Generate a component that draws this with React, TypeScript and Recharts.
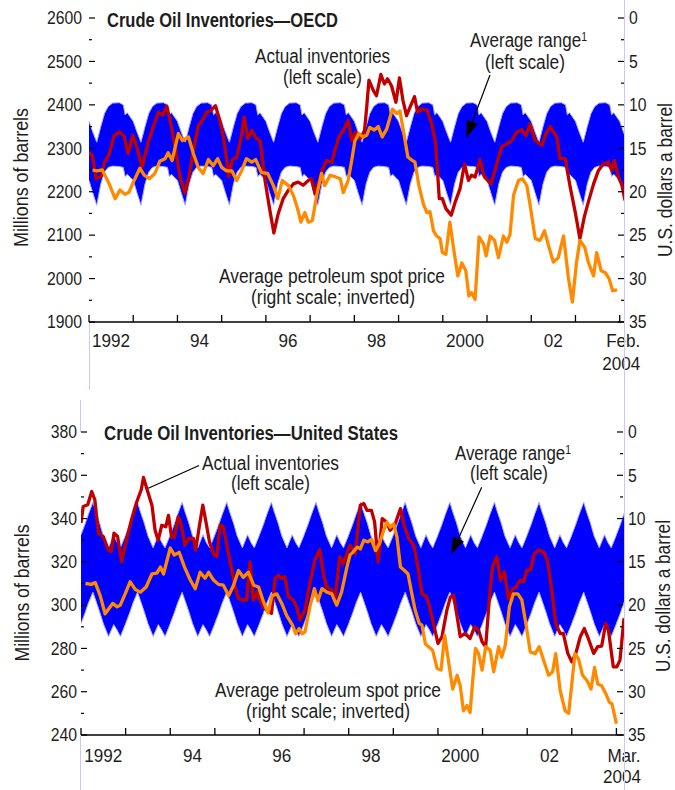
import React from "react";
import { ComposedChart, Area, Line, XAxis, YAxis } from "recharts";

const FONT = "'Liberation Sans', Arial, sans-serif";
const INK = "#1d1d1b";
const RED = "#c00000";
const ORANGE = "#ff8a00";
const BLUE = "#0000ff";

// x axis: yearly tick marks, labels centred on even years
const yearTicks = [1992, 1993, 1994, 1995, 1996, 1997, 1998, 1999, 2000, 2001, 2002, 2003, 2004];
const yearLabelAt = [1992.5, 1994.5, 1996.5, 1998.5, 2000.5, 2002.5];
const yearLabelText = ["1992", "94", "96", "98", "2000", "02"];

const oecdLeftTicks = [1900, 1950, 2000, 2050, 2100, 2150, 2200, 2250, 2300, 2350, 2400, 2450, 2500, 2550, 2600];
const usLeftTicks = [240, 250, 260, 270, 280, 290, 300, 310, 320, 330, 340, 350, 360, 370, 380];
const priceTicks = [0, 2.5, 5, 7.5, 10, 12.5, 15, 17.5, 20, 22.5, 25, 27.5, 30, 32.5, 35];

// average range: the same seasonal envelope every year (month of year -> low / high)
const bandYears = [1992, 1993, 1994, 1995, 1996, 1997, 1998, 1999, 2000, 2001, 2002, 2003, 2004];
const oecdBandMonth = [0, 1, 2.1, 3.2, 4.2, 5.2, 6.4, 8.2, 9.3, 9.8, 10.4, 11.2];
const oecdBandHigh = [2362, 2338, 2314, 2350, 2380, 2396, 2404, 2405, 2400, 2377, 2382, 2372];
const oecdBandLow = [2226, 2198, 2169, 2218, 2245, 2256, 2259, 2258, 2256, 2235, 2240, 2233];
const usBandMonth = [0, 1, 2, 3.2, 4, 5, 6, 7.4, 8.8, 9.7, 10.6, 11.9];
const usBandHigh = [332.5, 337, 342, 347.5, 343, 338, 332, 326.5, 332.5, 329, 326.5, 332];
const usBandLow = [291.5, 296, 301, 306, 302, 297, 291.5, 285.5, 291, 288.5, 285.5, 291];

type Pt = [number, number];

// OECD actual inventories, millions of barrels
const oecdActual: Pt[] = [
  [1992.0, 2291], [1992.08, 2282], [1992.16, 2230], [1992.27, 2236], [1992.35, 2268], [1992.46, 2287],
  [1992.57, 2330], [1992.69, 2338], [1992.8, 2326], [1992.88, 2288], [1992.99, 2330], [1993.09, 2300],
  [1993.2, 2257], [1993.34, 2314], [1993.45, 2349], [1993.57, 2383], [1993.66, 2376], [1993.76, 2397],
  [1993.85, 2356], [1993.93, 2314], [1994.06, 2234], [1994.17, 2197], [1994.26, 2234], [1994.36, 2295],
  [1994.47, 2352], [1994.56, 2364], [1994.66, 2383], [1994.76, 2387], [1994.86, 2398], [1994.96, 2364],
  [1995.04, 2326], [1995.11, 2276], [1995.16, 2235], [1995.24, 2273], [1995.34, 2279], [1995.44, 2326],
  [1995.51, 2372], [1995.59, 2322], [1995.68, 2341], [1995.79, 2322], [1995.87, 2318], [1995.98, 2226],
  [1996.09, 2157], [1996.18, 2105], [1996.28, 2150], [1996.39, 2184], [1996.5, 2202], [1996.62, 2218],
  [1996.73, 2222], [1996.84, 2215], [1996.96, 2226], [1997.03, 2230], [1997.11, 2195], [1997.18, 2218],
  [1997.27, 2249], [1997.37, 2272], [1997.49, 2268], [1997.56, 2295], [1997.65, 2326], [1997.75, 2341],
  [1997.86, 2364], [1997.94, 2318], [1998.03, 2337], [1998.13, 2322], [1998.23, 2341], [1998.28, 2395],
  [1998.33, 2457], [1998.43, 2433], [1998.5, 2421], [1998.6, 2470], [1998.68, 2448], [1998.75, 2460],
  [1998.84, 2444], [1998.94, 2406], [1999.02, 2462], [1999.1, 2410], [1999.18, 2375], [1999.26, 2395],
  [1999.36, 2419], [1999.43, 2383], [1999.52, 2391], [1999.64, 2388], [1999.75, 2356], [1999.84, 2310],
  [1999.92, 2184], [1999.99, 2184], [2000.07, 2161], [2000.19, 2146], [2000.28, 2176], [2000.39, 2207],
  [2000.49, 2264], [2000.58, 2226], [2000.65, 2238], [2000.73, 2234], [2000.84, 2274], [2000.94, 2234],
  [2001.09, 2218], [2001.22, 2264], [2001.33, 2303], [2001.45, 2310], [2001.56, 2318], [2001.67, 2337],
  [2001.79, 2343], [2001.88, 2329], [2001.97, 2356], [2002.09, 2318], [2002.24, 2307], [2002.33, 2333],
  [2002.43, 2350], [2002.53, 2333], [2002.58, 2326], [2002.65, 2276], [2002.77, 2276], [2002.88, 2211],
  [2003.0, 2150], [2003.1, 2092], [2003.2, 2142], [2003.29, 2176], [2003.41, 2218], [2003.52, 2249],
  [2003.63, 2264], [2003.75, 2268], [2003.82, 2249], [2003.88, 2272], [2003.97, 2234], [2004.05, 2215],
  [2004.12, 2180],
];

// average petroleum spot price, $ a barrel (plotted inverted)
const oecdPrice: Pt[] = [
  [1992.08, 17.5], [1992.18, 17.6], [1992.3, 17.5], [1992.44, 18.9], [1992.59, 20.8], [1992.7, 19.8],
  [1992.81, 20.3], [1992.9, 20.1], [1993.02, 18.7], [1993.15, 17.3], [1993.25, 18.1], [1993.36, 18.5],
  [1993.49, 17.9], [1993.6, 16.5], [1993.72, 16.2], [1993.79, 15.5], [1993.88, 16.4], [1994.02, 13.3],
  [1994.11, 14.1], [1994.25, 13.7], [1994.36, 15.6], [1994.47, 17.2], [1994.58, 17.9], [1994.7, 16.3],
  [1994.81, 17.0], [1994.91, 16.2], [1995.0, 17.2], [1995.11, 17.6], [1995.23, 17.6], [1995.34, 18.7],
  [1995.45, 17.6], [1995.56, 16.2], [1995.68, 16.6], [1995.77, 16.3], [1995.9, 17.8], [1996.04, 17.9],
  [1996.17, 19.3], [1996.27, 20.8], [1996.37, 18.7], [1996.51, 19.3], [1996.62, 20.4], [1996.73, 22.2],
  [1996.79, 23.5], [1996.88, 22.4], [1996.96, 23.5], [1997.05, 23.3], [1997.15, 20.4], [1997.26, 17.9],
  [1997.33, 19.3], [1997.45, 18.1], [1997.58, 18.3], [1997.68, 18.5], [1997.75, 20.1], [1997.86, 18.7],
  [1997.94, 16.4], [1998.01, 14.2], [1998.1, 13.3], [1998.2, 13.7], [1998.28, 13.5], [1998.35, 12.6],
  [1998.45, 12.9], [1998.54, 12.5], [1998.63, 13.7], [1998.73, 12.8], [1998.86, 10.5], [1998.96, 11.0],
  [1999.03, 10.7], [1999.11, 13.0], [1999.21, 16.0], [1999.31, 16.4], [1999.37, 16.6], [1999.46, 19.3],
  [1999.56, 21.4], [1999.64, 22.4], [1999.71, 22.3], [1999.79, 24.5], [1999.86, 25.1], [1999.94, 25.4],
  [1999.99, 27.0], [2000.07, 27.2], [2000.16, 23.5], [2000.24, 26.4], [2000.34, 29.7], [2000.43, 28.2],
  [2000.52, 29.1], [2000.59, 32.0], [2000.65, 31.6], [2000.73, 32.4], [2000.82, 25.2], [2000.92, 26.0],
  [2000.98, 27.4], [2001.07, 25.1], [2001.17, 25.6], [2001.26, 27.6], [2001.37, 25.1], [2001.45, 25.8],
  [2001.52, 24.9], [2001.6, 20.4], [2001.71, 18.7], [2001.8, 18.5], [2001.9, 19.3], [2001.97, 21.4],
  [2002.09, 25.4], [2002.2, 25.6], [2002.3, 24.5], [2002.39, 26.2], [2002.5, 28.1], [2002.61, 27.6],
  [2002.73, 25.1], [2002.84, 29.9], [2002.93, 32.7], [2003.02, 28.3], [2003.1, 25.6], [2003.21, 26.4],
  [2003.29, 28.1], [2003.41, 29.7], [2003.48, 27.0], [2003.58, 29.1], [2003.67, 29.3], [2003.76, 30.0],
  [2003.84, 31.4], [2003.94, 31.3],
];

// United States actual inventories, millions of barrels
const usActual: Pt[] = [
  [1992.0, 338], [1992.05, 345.6], [1992.15, 346.4], [1992.24, 352.5], [1992.31, 348.7], [1992.39, 333.3],
  [1992.5, 331.7], [1992.61, 325.6], [1992.68, 324.8], [1992.74, 333.3], [1992.82, 331.7], [1992.91, 320.1],
  [1993.02, 330.2], [1993.13, 339.4], [1993.24, 347.2], [1993.35, 353.3], [1993.4, 359], [1993.51, 351.5],
  [1993.59, 346.2], [1993.66, 334.6], [1993.73, 330], [1993.81, 336.9], [1993.9, 336.2], [1993.96, 341.5],
  [1994.03, 331.5], [1994.09, 331.2], [1994.18, 340.8], [1994.24, 337.7], [1994.33, 327.7], [1994.41, 330.8],
  [1994.52, 330.8], [1994.57, 325.4], [1994.65, 336.2], [1994.73, 346.2], [1994.8, 338.5], [1994.88, 329.2],
  [1994.97, 323.8], [1995.04, 322.3], [1995.12, 336.9], [1995.19, 336.2], [1995.29, 325.4], [1995.38, 316.2],
  [1995.45, 308.5], [1995.53, 303.1], [1995.64, 302.3], [1995.71, 302.3], [1995.79, 320], [1995.86, 302.3],
  [1995.94, 306.2], [1996.01, 302.3], [1996.09, 299.2], [1996.16, 297.7], [1996.27, 296.2], [1996.35, 312.3],
  [1996.42, 313.8], [1996.5, 312.3], [1996.57, 313.1], [1996.65, 303.8], [1996.76, 302.3], [1996.83, 299.2],
  [1996.91, 293.1], [1997.02, 297.7], [1997.13, 310], [1997.24, 320.8], [1997.35, 325.7], [1997.43, 314.6],
  [1997.5, 308.5], [1997.62, 306.9], [1997.69, 302.3], [1997.8, 322.3], [1997.88, 319.2], [1998.03, 327.7],
  [1998.15, 323.8], [1998.26, 346.2], [1998.34, 346.9], [1998.41, 343.8], [1998.51, 343.8], [1998.58, 338.5],
  [1998.66, 320], [1998.75, 340], [1998.84, 338.5], [1998.93, 334.6], [1999.03, 336.9], [1999.16, 344.6],
  [1999.23, 337.7], [1999.34, 330.8], [1999.46, 327.7], [1999.55, 317.7], [1999.64, 305.4], [1999.75, 303.8],
  [1999.83, 297.7], [1999.9, 291.5], [2000.0, 282.3], [2000.09, 285.4], [2000.2, 297.7], [2000.28, 303.8],
  [2000.35, 304.6], [2000.43, 294.6], [2000.5, 285.4], [2000.61, 286.9], [2000.72, 284.6], [2000.82, 290],
  [2000.91, 288.5], [2000.99, 283.1], [2001.07, 280.8], [2001.15, 302.3], [2001.22, 317.7], [2001.32, 322.3],
  [2001.4, 311.5], [2001.49, 315.4], [2001.58, 303.1], [2001.66, 306.9], [2001.75, 308.5], [2001.84, 311.5],
  [2001.92, 310.8], [2001.99, 316.2], [2002.07, 316.2], [2002.16, 323.8], [2002.25, 325.4], [2002.37, 324.6],
  [2002.46, 320], [2002.55, 306.9], [2002.64, 291.5], [2002.74, 286.9], [2002.81, 286.9], [2002.91, 277.7],
  [2003.0, 273.8], [2003.09, 277.7], [2003.19, 285.4], [2003.28, 289.2], [2003.37, 284.6], [2003.49, 277.7],
  [2003.58, 280.8], [2003.67, 281.1], [2003.76, 291.5], [2003.82, 288.5], [2003.93, 271.5], [2004.01, 271.5],
  [2004.08, 274.6], [2004.17, 294],
];

const usPrice: Pt[] = [
  [1992.1, 17.5], [1992.23, 17.6], [1992.32, 17.4], [1992.43, 18.9], [1992.54, 21.0], [1992.71, 19.8],
  [1992.81, 20.2], [1992.88, 20.0], [1992.99, 18.7], [1993.1, 17.3], [1993.22, 18.2], [1993.33, 18.5],
  [1993.46, 17.9], [1993.59, 16.4], [1993.7, 16.3], [1993.78, 15.6], [1993.85, 16.4], [1994.0, 13.4],
  [1994.09, 14.2], [1994.2, 13.9], [1994.32, 15.6], [1994.45, 17.1], [1994.56, 18.1], [1994.67, 16.2],
  [1994.78, 16.9], [1994.86, 16.2], [1994.97, 17.1], [1995.08, 17.6], [1995.19, 17.7], [1995.31, 18.9],
  [1995.42, 17.7], [1995.53, 16.0], [1995.64, 16.8], [1995.75, 16.2], [1995.87, 17.7], [1995.98, 17.9],
  [1996.09, 19.6], [1996.19, 20.9], [1996.28, 18.9], [1996.39, 18.7], [1996.5, 19.8], [1996.61, 21.2],
  [1996.74, 22.3], [1996.81, 23.3], [1996.89, 22.7], [1996.95, 23.3], [1997.02, 23.1], [1997.13, 20.2],
  [1997.23, 18.1], [1997.31, 19.5], [1997.4, 18.1], [1997.51, 18.5], [1997.62, 18.7], [1997.73, 20.0],
  [1997.84, 18.5], [1997.96, 15.6], [1998.03, 14.2], [1998.09, 13.9], [1998.19, 13.3], [1998.26, 13.5],
  [1998.34, 12.5], [1998.43, 12.7], [1998.51, 12.4], [1998.6, 13.7], [1998.69, 12.9], [1998.78, 11.4],
  [1998.86, 10.4], [1998.93, 11.0], [1999.01, 10.6], [1999.08, 12.1], [1999.16, 15.6], [1999.25, 16.0],
  [1999.33, 16.4], [1999.4, 18.3], [1999.49, 20.6], [1999.58, 22.1], [1999.64, 22.3], [1999.72, 24.5],
  [1999.79, 24.8], [1999.88, 25.2], [1999.98, 27.3], [2000.07, 27.5], [2000.15, 23.5], [2000.24, 26.6],
  [2000.33, 29.7], [2000.43, 28.1], [2000.5, 29.3], [2000.57, 32.2], [2000.65, 31.6], [2000.72, 32.4],
  [2000.84, 25.0], [2000.91, 25.6], [2000.99, 27.5], [2001.07, 24.8], [2001.17, 25.2], [2001.25, 27.7],
  [2001.36, 24.8], [2001.43, 26.0], [2001.51, 24.6], [2001.6, 20.2], [2001.69, 18.7], [2001.79, 18.7],
  [2001.88, 19.4], [2001.96, 21.8], [2002.07, 25.4], [2002.18, 25.6], [2002.27, 24.8], [2002.37, 26.4],
  [2002.48, 28.1], [2002.57, 27.7], [2002.64, 25.6], [2002.74, 29.9], [2002.85, 32.2], [2002.93, 32.5],
  [2003.0, 29.1], [2003.07, 25.6], [2003.15, 26.2], [2003.24, 28.1], [2003.34, 28.7], [2003.43, 29.7],
  [2003.51, 27.2], [2003.58, 29.1], [2003.67, 29.3], [2003.76, 30.2], [2003.84, 31.2], [2003.9, 31.4],
  [2004.0, 33.7],
];

const rows = (pts: Pt[]) => pts.map(([t, v]) => ({ t, v }));

const buildBand = (months: number[], low: number[], high: number[]) =>
  bandYears.flatMap((y) => months.map((m, i) => ({ t: y + m / 12, range: [low[i], high[i]] })));

const leftTick = (gap: number, step: number) => (props: any) => {
  const { x, y, payload } = props;
  const major = payload.value % step === 0;
  return (
    <g>
      <line x1={x} x2={x + (major ? 6 : 3)} y1={y} y2={y} stroke="#000" strokeWidth={1.2} />
      {major && (
        <text transform={`translate(${x - gap},${y + 6.3}) scale(0.9,1)`} textAnchor="end" fontSize={17.5} fontFamily={FONT} fill={INK}>
          {payload.value}
        </text>
      )}
    </g>
  );
};

const rightTick = (props: any) => {
  const { x, y, payload } = props;
  const major = payload.value % 5 === 0;
  return (
    <g>
      <line x1={x - (major ? 7 : 4)} x2={x - 1} y1={y} y2={y} stroke="#000" strokeWidth={1.2} />
      {major && (
        <text transform={`translate(${x + 4},${y + 6.3}) scale(0.9,1)`} textAnchor="start" fontSize={17.5} fontFamily={FONT} fill={INK}>
          {payload.value}
        </text>
      )}
    </g>
  );
};

const xTick = (endAt: number, endMonth: string, dy: number, dy2: number) => (props: any) => {
  const { x, y, payload } = props;
  const v = payload.value;
  const txt = { fontSize: 19, fontFamily: FONT, fill: INK, textAnchor: "middle" as const };
  if (yearTicks.includes(v)) {
    return <line x1={x} x2={x} y1={y} y2={y - 7} stroke="#000" strokeWidth={1.3} />;
  }
  const i = yearLabelAt.indexOf(v);
  if (i >= 0) {
    return <text transform={`translate(${x},${y + dy}) scale(0.9,1)`} {...txt}>{yearLabelText[i]}</text>;
  }
  if (v === endAt) {
    return (
      <g>
        <text transform={`translate(${x},${y + dy}) scale(0.9,1)`} {...txt}>{endMonth}</text>
        <text transform={`translate(${x - 2},${y + dy2}) scale(0.9,1)`} {...txt}>2004</text>
      </g>
    );
  }
  return <g />;
};

interface PanelProps {
  top: number;
  plotTop: number;
  xAxisHeight: number;
  leftWidth: number;
  rightWidth: number;
  xMax: number;
  yDomain: [number, number];
  leftTicks: number[];
  leftStep: number;
  leftGap: number;
  band: { t: number; range: number[] }[];
  actual: Pt[];
  price: Pt[];
  endAt: number;
  endMonth: string;
  labelDy: number;
  labelDy2: number;
}

function Panel(p: PanelProps) {
  const ticks = [...yearTicks, ...yearLabelAt, p.endAt].sort((a, b) => a - b);
  return (
    <div style={{ position: "absolute", left: 0, top: p.top }}>
      <ComposedChart width={675} height={390} margin={{ top: p.plotTop, right: 0, bottom: 0, left: 0 }}>
        <XAxis
          dataKey="t"
          type="number"
          domain={[1992, p.xMax]}
          allowDataOverflow
          ticks={ticks}
          interval={0}
          tickSize={0}
          tickMargin={0}
          height={p.xAxisHeight}
          axisLine={{ stroke: "#000", strokeWidth: 1.5 }}
          tickLine={false}
          tick={xTick(p.endAt, p.endMonth, p.labelDy, p.labelDy2)}
        />
        <YAxis
          yAxisId="left"
          width={p.leftWidth}
          domain={p.yDomain}
          allowDataOverflow
          ticks={p.leftTicks}
          interval={0}
          tickSize={0}
          tickMargin={0}
          axisLine={false}
          tickLine={false}
          tick={leftTick(p.leftGap, p.leftStep)}
        />
        <YAxis
          yAxisId="right"
          orientation="right"
          reversed
          width={p.rightWidth}
          domain={[0, 35]}
          allowDataOverflow
          ticks={priceTicks}
          interval={0}
          tickSize={0}
          tickMargin={0}
          axisLine={false}
          tickLine={false}
          tick={rightTick}
        />
        <Area
          yAxisId="left"
          data={p.band}
          dataKey="range"
          type="linear"
          fill={BLUE}
          fillOpacity={1}
          stroke="#a9a9ff"
          strokeWidth={1}
          isAnimationActive={false}
        />
        <Line
          yAxisId="left"
          data={rows(p.actual)}
          dataKey="v"
          type="linear"
          stroke={RED}
          strokeWidth={3.3}
          strokeLinejoin="round"
          dot={false}
          isAnimationActive={false}
        />
        <Line
          yAxisId="right"
          data={rows(p.price)}
          dataKey="v"
          type="linear"
          stroke={ORANGE}
          strokeWidth={3.3}
          strokeLinejoin="round"
          dot={false}
          isAnimationActive={false}
        />
      </ComposedChart>
    </div>
  );
}

function Note({ x, y, w, size = 19.5, bold = false, children }: any) {
  return (
    <text x={x} y={y} textLength={w} lengthAdjust="spacingAndGlyphs" fontSize={size} fontWeight={bold ? 700 : 400} fontFamily={FONT} fill={INK}>
      {children}
    </text>
  );
}

function Vertical({ x, y, w, children }: any) {
  return (
    <text transform={`translate(${x},${y}) rotate(-90)`} textAnchor="middle" textLength={w} lengthAdjust="spacingAndGlyphs" fontSize={20} fontFamily={FONT} fill={INK}>
      {children}
    </text>
  );
}

export default function App() {
  return (
    <div style={{ position: "absolute", left: 0, top: 0, width: 675, height: 790, background: "#fff" }}>
      <Panel
        top={0}
        plotTop={18}
        xAxisHeight={68}
        leftWidth={89}
        rightWidth={50}
        xMax={2004.12}
        yDomain={[1900, 2600]}
        leftTicks={oecdLeftTicks}
        leftStep={100}
        leftGap={7}
        band={buildBand(oecdBandMonth, oecdBandLow, oecdBandHigh)}
        actual={oecdActual}
        price={oecdPrice}
        endAt={2004.08}
        endMonth="Feb."
        labelDy={24.7}
        labelDy2={48}
      />
      <Panel
        top={400}
        plotTop={32}
        xAxisHeight={55}
        leftWidth={81}
        rightWidth={51}
        xMax={2004.17}
        yDomain={[240, 380]}
        leftTicks={usLeftTicks}
        leftStep={20}
        leftGap={4}
        band={buildBand(usBandMonth, usBandLow, usBandHigh)}
        actual={usActual}
        price={usPrice}
        endAt={2004.17}
        endMonth="Mar."
        labelDy={26.5}
        labelDy2={48.3}
      />
      <svg width={675} height={790} style={{ position: "absolute", left: 0, top: 0, pointerEvents: "none" }}>
        <defs>
          <marker id="head" markerWidth={18} markerHeight={12} refX={16} refY={6} orient="auto" markerUnits="userSpaceOnUse">
            <path d="M0,0 L17,6 L0,12 Z" fill="#000" />
          </marker>
        </defs>
        <line x1={624.5} x2={624.5} y1={0} y2={790} stroke="#c9c9f2" strokeWidth={1} />
        <line x1={89.5} x2={89.5} y1={323} y2={390} stroke="#c9c9f2" strokeWidth={1} />
        <line x1={80.5} x2={80.5} y1={400} y2={432} stroke="#c9c9f2" strokeWidth={1} />
        <line x1={80.5} x2={80.5} y1={736} y2={790} stroke="#c9c9f2" strokeWidth={1} />

        <Note x={107} y={27} w={231} bold>Crude Oil Inventories—OECD</Note>
        <Note x={255} y={62.5} w={135}>Actual inventories</Note>
        <Note x={283} y={84} w={79}>(left scale)</Note>
        <Note x={470} y={46.5} w={117}>
          Average range<tspan dy={-6} fontSize={12}>1</tspan>
        </Note>
        <Note x={485} y={68.5} w={80}>(left scale)</Note>
        <line x1={490} y1={75} x2={466.7} y2={136.7} stroke="#000" strokeWidth={1.2} markerEnd="url(#head)" />
        <Note x={219} y={282.5} w={226}>Average petroleum spot price</Note>
        <Note x={251} y={304} w={164}>(right scale; inverted)</Note>
        <Vertical x={28} y={177.5} w={139}>Millions of barrels</Vertical>
        <Vertical x={672} y={180} w={154}>U.S. dollars a barrel</Vertical>

        <Note x={104} y={440} w={294} bold>Crude Oil Inventories—United States</Note>
        <Note x={202} y={470} w={137}>Actual inventories</Note>
        <Note x={231} y={490} w={79}>(left scale)</Note>
        <line x1={148.3} y1={488.3} x2={199} y2={465.5} stroke="#000" strokeWidth={1.2} />
        <Note x={455} y={460} w={116}>
          Average range<tspan dy={-6} fontSize={12}>1</tspan>
        </Note>
        <Note x={470} y={480} w={78}>(left scale)</Note>
        <line x1={481.7} y1={487.3} x2={451.7} y2={553.3} stroke="#000" strokeWidth={1.2} markerEnd="url(#head)" />
        <Note x={215} y={697} w={226}>Average petroleum spot price</Note>
        <Note x={246} y={718} w={164}>(right scale; inverted)</Note>
        <Vertical x={28.5} y={593} w={137}>Millions of barrels</Vertical>
        <Vertical x={669.5} y={596} w={152}>U.S. dollars a barrel</Vertical>
      </svg>
    </div>
  );
}
